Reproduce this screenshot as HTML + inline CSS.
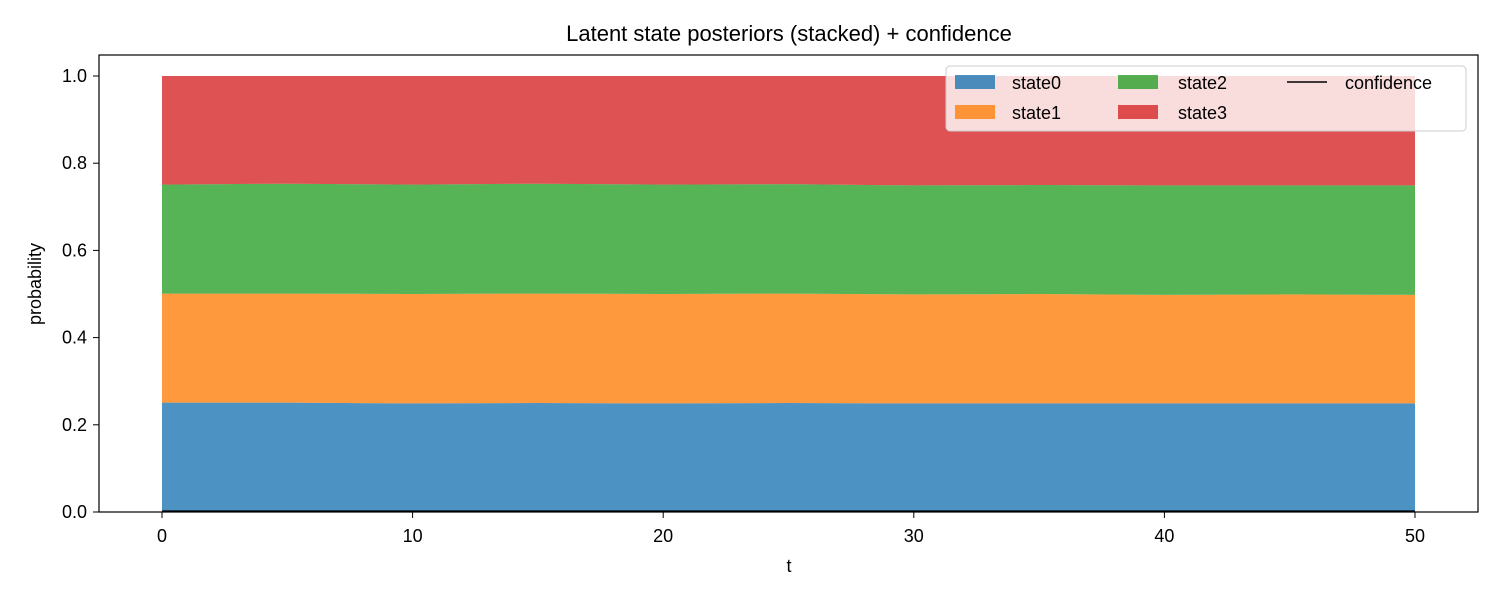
<!DOCTYPE html>
<html><head><meta charset="utf-8"><style>
body{margin:0;background:#fff}
svg text{font-family:"Liberation Sans","DejaVu Sans",sans-serif;fill:#000}
</style></head><body>
<svg id="c" width="1500" height="600" xmlns="http://www.w3.org/2000/svg">
<rect width="1500" height="600" fill="#fff"/>
<text x="789" y="41" font-size="22" text-anchor="middle">Latent state posteriors (stacked) + confidence</text>
<g id="areas"></g>
<g id="axes"></g>
<text x="789" y="572" font-size="18" text-anchor="middle">t</text>
<text transform="translate(41,284) rotate(-90)" font-size="18" text-anchor="middle">probability</text>
<g>
<rect x="946" y="66" width="520" height="65" rx="4" fill="#fff" fill-opacity="0.8" stroke="#ccc"/>
<rect x="955" y="75" width="40" height="14" fill="#1f77b4" fill-opacity="0.8"/>
<text x="1012" y="89" font-size="18">state0</text>
<rect x="955" y="105" width="40" height="14" fill="#ff7f0e" fill-opacity="0.8"/>
<text x="1012" y="119" font-size="18">state1</text>
<rect x="1118" y="75" width="40" height="14" fill="#2ca02c" fill-opacity="0.8"/>
<text x="1178" y="89" font-size="18">state2</text>
<rect x="1118" y="105" width="40" height="14" fill="#d62728" fill-opacity="0.8"/>
<text x="1178" y="119" font-size="18">state3</text>
<line x1="1287" y1="82" x2="1327" y2="82" stroke="#000" stroke-width="1.5"/>
<text x="1345" y="89" font-size="18">confidence</text>
</g>
</svg>
<script>
const tValues=[0,5,10,15,20,25,30,35,40,45,50];
const state0=[0.251,0.251,0.249,0.250,0.249,0.250,0.249,0.249,0.249,0.249,0.249];
const state1=[0.250,0.250,0.251,0.251,0.251,0.251,0.250,0.251,0.249,0.250,0.249];
const state2=[0.250,0.252,0.251,0.252,0.251,0.251,0.250,0.250,0.251,0.250,0.251];
const state3=[0.249,0.247,0.249,0.247,0.249,0.248,0.251,0.250,0.251,0.251,0.251];
const confidence=[0.002,0.002,0.002,0.002,0.002,0.002,0.002,0.002,0.002,0.002,0.002];
const xTicks=[0,10,20,30,40,50];
const yTicks=[0,0.2,0.4,0.6,0.8,1.0];
const NS="http://www.w3.org/2000/svg";
const X=v=>162+(v-0)*(1415-162)/50;
const Y=v=>512-v*436;
const series=[state0,state1,state2,state3];
const names=['state0','state1','state2','state3'];
const colors=['#1f77b4','#ff7f0e','#2ca02c','#d62728'];
const areas=document.getElementById('areas');
let base=tValues.map(()=>0);
series.forEach((s,i)=>{
  const top=base.map((b,j)=>b+s[j]);
  let d='M'+tValues.map((t,j)=>X(t)+','+Y(top[j])).join('L');
  for(let j=tValues.length-1;j>=0;j--) d+='L'+X(tValues[j])+','+Y(base[j]);
  const p=document.createElementNS(NS,'path');
  p.setAttribute('d',d+'Z');
  p.setAttribute('fill',colors[i]);p.setAttribute('fill-opacity','0.8');
  
  
  areas.appendChild(p);
  base=top;
});
const cl=document.createElementNS(NS,'polyline');
cl.setAttribute('points',tValues.map((t,j)=>X(t)+','+Y(confidence[j])).join(' '));
cl.setAttribute('fill','none');cl.setAttribute('stroke','#000');cl.setAttribute('stroke-width','1.5');


areas.appendChild(cl);
const ax=document.getElementById('axes');
const frame=document.createElementNS(NS,'rect');
frame.setAttribute('x',99);frame.setAttribute('y',55);frame.setAttribute('width',1379);frame.setAttribute('height',457);
frame.setAttribute('fill','none');frame.setAttribute('stroke','#000');frame.setAttribute('stroke-width','1.2');


ax.appendChild(frame);
xTicks.forEach(v=>{
  const l=document.createElementNS(NS,'line');
  l.setAttribute('x1',X(v));l.setAttribute('x2',X(v));l.setAttribute('y1',512);l.setAttribute('y2',518);l.setAttribute('stroke','#000');
  
  
  ax.appendChild(l);
  const t=document.createElementNS(NS,'text');
  t.setAttribute('x',X(v));t.setAttribute('y',542);t.setAttribute('font-size','18');t.setAttribute('text-anchor','middle');
  t.textContent=v;
  
  
  ax.appendChild(t);
});
yTicks.forEach(v=>{
  const l=document.createElementNS(NS,'line');
  l.setAttribute('x1',93);l.setAttribute('x2',99);l.setAttribute('y1',Y(v));l.setAttribute('y2',Y(v));l.setAttribute('stroke','#000');
  
  
  ax.appendChild(l);
  const t=document.createElementNS(NS,'text');
  t.setAttribute('x',87);t.setAttribute('y',Y(v)+6);t.setAttribute('font-size','18');t.setAttribute('text-anchor','end');
  t.textContent=v.toFixed(1);
  
  
  ax.appendChild(t);
});
</script>
</body></html>
